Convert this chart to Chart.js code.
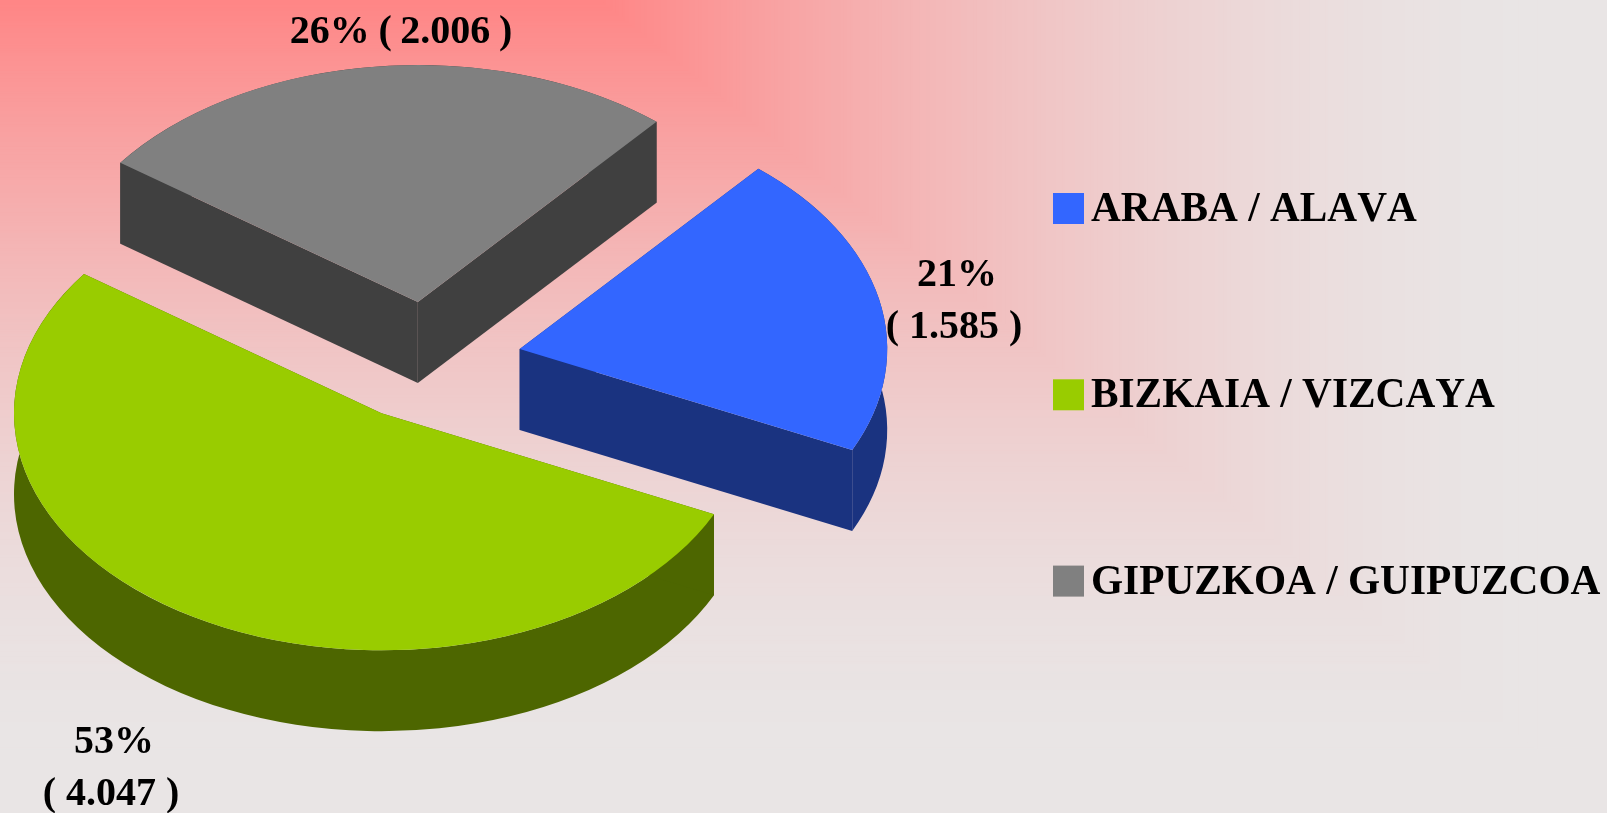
<!DOCTYPE html>
<html>
<head>
<meta charset="utf-8">
<style>html,body{margin:0;padding:0;background:#e9e5e5;overflow:hidden}canvas{display:block}</style>
<script src="https://cdn.jsdelivr.net/npm/chart.js@4/dist/chart.umd.min.js"></script>
</head>
<body>
<canvas id="c" width="1607" height="813"></canvas>
<script>
const categories = ['ARABA / ALAVA', 'BIZKAIA / VIZCAYA', 'GIPUZKOA / GUIPUZCOA'];
const values = [1585, 4047, 2006];
const percentLabels = ['21%', '53%', '26%'];
const valueLabels = ['( 1.585 )', '( 4.047 )', '( 2.006 )'];
const topColors = ['#3366ff', '#99cc00', '#808080'];
const sideColors = ['#1a3380', '#4d6600', '#404040'];

const SQUASH = 0.645, DEPTH = 81, EXPLODE = 93;
const PIE_CX = 428.8, PIE_CY = 361.6;
const FONT = 'bold 40px "Liberation Serif", "Times New Roman", serif';
const LEGEND_FONT = 'bold 41.3px "Liberation Serif", "Times New Roman", serif';

function squash(ctx) {
  ctx.translate(0, PIE_CY);
  ctx.scale(1, SQUASH);
  ctx.translate(0, -PIE_CY);
}

const pie3d = {
  id: 'pie3d',
  beforeDraw(chart) {
    const ctx = chart.ctx;
    // stepped rectangular gradient, as in the source graphic
    const x0 = 600, a = 950, b = 760, steps = 300;
    ctx.save();
    ctx.fillStyle = '#e9e5e5';
    ctx.fillRect(0, 0, chart.width, chart.height);
    for (let i = steps; i >= 0; i--) {
      const t = i / steps;
      const f = 1 - Math.pow(1 - t, 1.75);
      const r = Math.round(255 + (233 - 255) * f);
      const g = Math.round(133 + (229 - 133) * f);
      ctx.fillStyle = `rgb(${r},${g},${g})`;
      ctx.fillRect(0, 0, x0 + a * t, b * t);
    }
    ctx.restore();
  },
  afterDatasetsUpdate(chart) {
    chart.getDatasetMeta(0).data.forEach(el => {
      const mid = (el.startAngle + el.endAngle) / 2;
      el.x += Math.cos(mid) * EXPLODE;
      el.y += Math.sin(mid) * EXPLODE;
    });
  },
  beforeDatasetsDraw(chart) {
    const ctx = chart.ctx;
    ctx.save();
    squash(ctx);
    const dy = DEPTH / SQUASH;
    chart.getDatasetMeta(0).data.forEach((el, i) => {
      const { x, y, startAngle: s, endAngle: e, outerRadius: r } = el;
      ctx.fillStyle = sideColors[i];
      ctx.beginPath();
      ctx.arc(x, y, r, s, e);
      ctx.arc(x, y + dy, r, e, s, true);
      ctx.closePath();
      ctx.fill();
      [s, e].forEach(a => {
        const px = x + Math.cos(a) * r, py = y + Math.sin(a) * r;
        ctx.beginPath();
        ctx.moveTo(x, y);
        ctx.lineTo(px, py);
        ctx.lineTo(px, py + dy);
        ctx.lineTo(x, y + dy);
        ctx.closePath();
        ctx.fill();
      });
    });
  },
  afterDatasetsDraw(chart) {
    const ctx = chart.ctx;
    ctx.restore();
    ctx.save();
    ctx.fillStyle = '#000';
    ctx.font = FONT;
    ctx.fontKerning = 'none';
    ctx.textBaseline = 'alphabetic';

    // value labels
    ctx.textAlign = 'center';
    ctx.fillText(percentLabels[0], 957, 286);
    ctx.fillText(valueLabels[0], 954, 338);
    ctx.fillText(percentLabels[1], 114, 753);
    ctx.fillText(valueLabels[1], 111, 805);
    ctx.wordSpacing = '-1.4px';
    ctx.fillText(percentLabels[2] + ' ' + valueLabels[2], 401, 43);
    ctx.wordSpacing = '0px';

    // legend
    ctx.font = LEGEND_FONT;
    ctx.textAlign = 'left';
    categories.forEach((name, i) => {
      const top = 193 + i * 186.3;
      ctx.fillStyle = topColors[i];
      ctx.fillRect(1053, top, 31, 31);
      ctx.fillStyle = '#000';
      ctx.fillText(name, 1091, top + 28);
    });
    ctx.restore();
  }
};

new Chart(document.getElementById('c'), {
  type: 'pie',
  data: {
    labels: categories,
    datasets: [{
      data: values,
      backgroundColor: topColors,
      borderWidth: 0,
      clip: false
    }]
  },
  options: {
    responsive: false,
    animation: false,
    events: [],
    rotation: 40.5,
    radius: 367.5,
    layout: { padding: { left: 0, top: 0, right: 1607 - 2 * PIE_CX, bottom: 813 - 2 * PIE_CY } },
    plugins: { legend: { display: false }, tooltip: { enabled: false } }
  },
  plugins: [pie3d]
});
</script>
</body>
</html>
